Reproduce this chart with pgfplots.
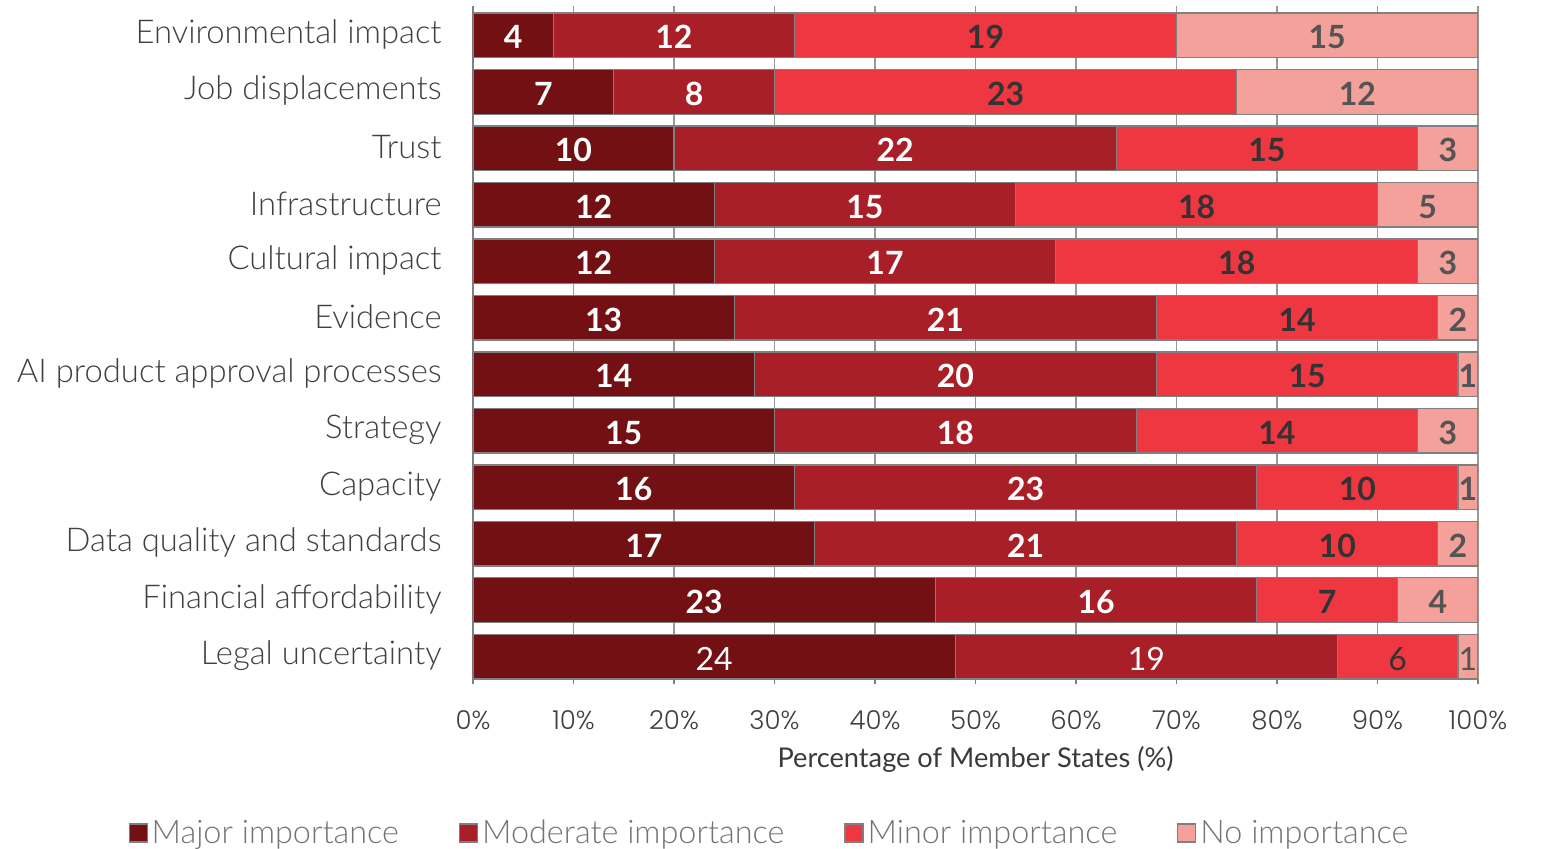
\documentclass[border=0pt]{standalone}
\usepackage{fontspec}
\setmainfont{Lato}
\newfontfamily\lightfont{Lato Light}
\newfontfamily\tickfont{Poppins Light}
\usepackage{pgfplots}
\usepackage{pgfplotstable}
\pgfplotsset{compat=1.18}

\definecolor{cmajor}{HTML}{731013}
\definecolor{cmoderate}{HTML}{A91F28}
\definecolor{cminor}{HTML}{EF3742}
\definecolor{cnone}{HTML}{F5A19B}
\definecolor{edgegray}{HTML}{808080}
\definecolor{labelgray}{HTML}{404040}

% counts of member states, 50 in each row; bf=0 -> regular labels
\pgfplotstableread[col sep=comma]{
label,major,moderate,minor,none,bf
Environmental impact,4,12,19,15,1
Job displacements,7,8,23,12,1
Trust,10,22,15,3,1
Infrastructure,12,15,18,5,1
Cultural impact,12,17,18,3,1
Evidence,13,21,14,2,1
AI product approval processes,14,20,15,1,1
Strategy,15,18,14,3,1
Capacity,16,23,10,1,1
Data quality and standards,17,21,10,2,1
Financial affordability,23,16,7,4,1
Legal uncertainty,24,19,6,1,0
}\datatable

\begin{document}
\begin{tikzpicture}
\begin{axis}[
    name=ax,
    xbar stacked,
    scale only axis,
    width=502.5pt, height=336.25pt,
    xmin=0, xmax=50,
    ymin=-0.51, ymax=11.395,
    y dir=reverse,
    bar width=0.79,
    axis lines*=left,
    axis line style={draw=edgegray, line width=0.6pt},
    xmajorgrids,
    grid style={draw=edgegray!80, line width=0.6pt},
    tick align=outside,
    major tick length=2.5pt,
    xtick={0,5,...,50},
    xticklabels={0\%,10\%,20\%,30\%,40\%,50\%,60\%,70\%,80\%,90\%,100\%},
    xtick style={draw=edgegray, line width=0.6pt},
    xticklabel style={anchor=center, yshift=-18pt, font=\tickfont\fontsize{13}{15}\selectfont, text=labelgray},
    /pgf/number format/assume math mode=true,
    ytick={0,...,11},
    yticklabels from table={\datatable}{label},
    ytick style={draw=none},
    yticklabel style={anchor=east, inner sep=0pt, xshift=-13pt, yshift=0.5pt, font=\lightfont\fontsize{16.4}{19}\selectfont, text=labelgray},
    xlabel={Percentage of Member States (\%)},
    xlabel style={at={(axis description cs:0.5,0)}, anchor=center, yshift=-40pt, font=\fontsize{13.6}{16}\selectfont, text=labelgray!90!black},
    point meta=explicit symbolic,
    visualization depends on={\thisrow{bf}\as\isbold},
    nodes near coords={\ifdim\isbold pt>0.5pt \bfseries\fi\pgfplotspointmeta},
    nodes near coords align={anchor=center},
    every node near coord/.append style={font=\fontsize{16}{18}\selectfont, inner sep=0pt, yshift=-1pt},
    legend columns=-1,
    legend style={at={(0.296,-0.229)}, anchor=center, draw=none, fill=none,
        font=\lightfont\fontsize{16.2}{19}\selectfont, text=black!55,
        /tikz/every even column/.append style={column sep=28pt}},
    legend image code/.code={\draw[#1, draw=edgegray, line width=0.6pt] (0pt,-4.5pt) rectangle (9pt,4.5pt);},
]
\addplot[fill=cmajor, draw=edgegray, line width=0.6pt,
    every node near coord/.append style={text=white}]
    table[x=major, y expr=\coordindex, meta=major] {\datatable};
\addplot[fill=cmoderate, draw=edgegray, line width=0.6pt,
    every node near coord/.append style={text=white}]
    table[x=moderate, y expr=\coordindex, meta=moderate] {\datatable};
\addplot[fill=cminor, draw=edgegray, line width=0.6pt,
    every node near coord/.append style={text=black!80}]
    table[x=minor, y expr=\coordindex, meta=minor] {\datatable};
\addplot[fill=cnone, draw=edgegray, line width=0.6pt,
    every node near coord/.append style={text=black!67}]
    table[x=none, y expr=\coordindex, meta=none] {\datatable};
\legend{Major importance, Moderate importance, Minor importance, No importance}
\end{axis}
\pgfresetboundingbox
\path[use as bounding box] ([xshift=-236.5pt,yshift=3.25pt]ax.north west) rectangle ++(770.5pt,-424.5pt);
\end{tikzpicture}
\end{document}
